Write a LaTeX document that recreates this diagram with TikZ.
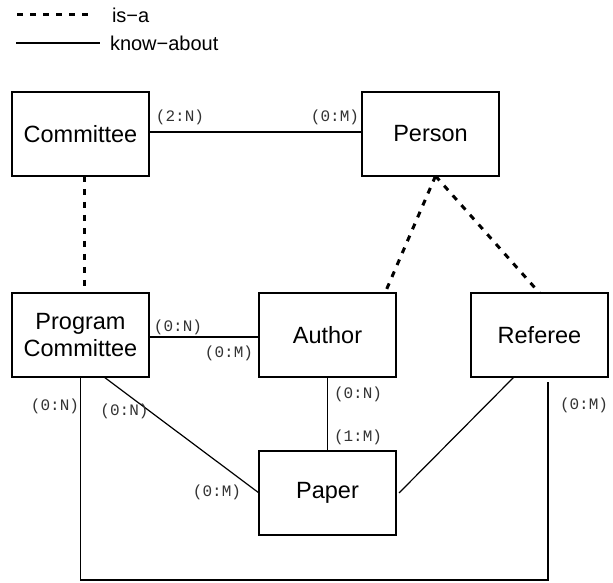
\documentclass[tikz,border=0pt]{standalone}
\usepackage{fontspec}
\setmainfont{Liberation Sans}
\newfontfamily\cardfont{Liberation Mono}
\usetikzlibrary{positioning}

\begin{document}
\begin{tikzpicture}[x=1pt,y=1pt,node distance=0pt,outer sep=0pt]
    \tikzstyle{entity} = [rectangle, draw=black, line width=1.3pt, minimum width=137pt, minimum height=84pt, inner sep=0pt, align=center, font=\fontsize{23.5}{27}\selectfont]
    \tikzstyle{card} = [inner sep=0pt, text=black!80, font=\cardfont\fontsize{16}{16}\selectfont]
    \tikzstyle{isa} = [line width=3pt, dash pattern=on 6pt off 7pt]
    \tikzstyle{know} = [line width=1.2pt]
    \useasboundingbox (0,0) rectangle (613,583);
    % legend
    \coordinate (isa1) at (17,568);
    \coordinate (isa2) at (92,568);
    \coordinate (know1) at (16,540);
    \coordinate (know2) at (100,540);
    \node (isatext)  [anchor=west, inner sep=0pt, font=\fontsize{20}{20}\selectfont] at (112,568) {is−a};
    \node (knowtext) [anchor=west, inner sep=0pt, font=\fontsize{20}{20}\selectfont] at (110,540) {know−about};
    \draw[isa] (isa1) -- (isa2);
    \draw[know] (know1) -- (know2);
    % entities
    \node (committee) [entity] at (80.5,449) {Committee};
    \node (person)    [entity,right=213pt of committee] {Person};
    \node (pc)        [entity,below=117pt of committee] {Program\\Committee};
    \node (author)    [entity,right=110pt of pc] {Author};
    \node (referee)   [entity,right=75pt of author] {Referee};
    \node (paper)     [entity,below=74pt of author] {Paper};
    % is-a
    \coordinate (isatop) at ([xshift=5pt]person.south);
    \draw[isa] ([xshift=3.5pt]committee.south) -- ([xshift=3.5pt]pc.north);
    \draw[isa] (isatop) -- ([xshift=-11pt]author.north east);
    \draw[isa] (isatop) -- (referee.north);
    % know-about
    \coordinate (loopend) at ([xshift=8.5pt,yshift=-5pt]referee.south);
    \draw[know] ([yshift=2pt]committee.east) -- ([yshift=2pt]person.west);
    \draw[know] ([yshift=-2pt]pc.east) -- ([yshift=-2pt]author.west);
    \draw[know] (author.south) -- (paper.north);
    \draw[know] ([xshift=23.5pt]pc.south) -- (paper.west);
    \draw[know] ([xshift=-25.5pt]referee.south) -- ([xshift=3pt]paper.east);
    \draw[know] (pc.south) -- ++(0,-203) -| (loopend);
    % cardinalities
    \node (c1)  [card] at (180,466) {(2:N)};
    \node (c2)  [card] at (335,466) {(0:M)};
    \node (c3)  [card] at (178,256) {(0:N)};
    \node (c4)  [card] at (229,230) {(0:M)};
    \node (c5)  [card] at (358,189) {(0:N)};
    \node (c6)  [card] at (358,146) {(1:M)};
    \node (c7)  [card] at (124.5,172) {(0:N)};
    \node (c8)  [card] at (217,91) {(0:M)};
    \node (c9)  [card] at (55,177) {(0:N)};
    \node (c10) [card] at (584,178) {(0:M)};
\end{tikzpicture}
\end{document}
